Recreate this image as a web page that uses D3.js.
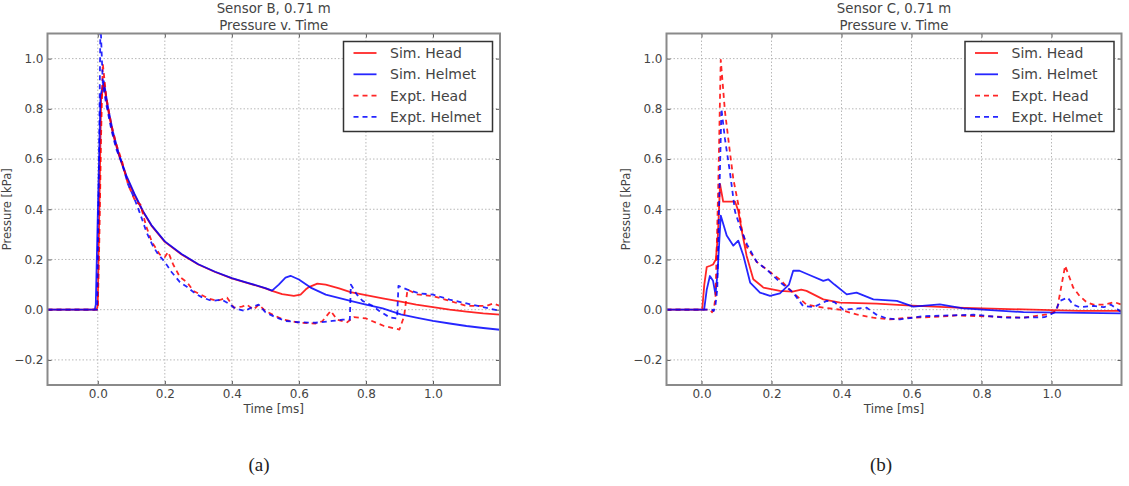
<!DOCTYPE html>
<html>
<head>
<meta charset="utf-8">
<script src="https://cdn.jsdelivr.net/npm/d3@7"></script>
<style>
  html, body { margin: 0; padding: 0; background: #ffffff; }
  svg { display: block; }
  text { font-family: "DejaVu Sans", sans-serif; }
</style>
</head>
<body>
<svg id="chart" width="1129" height="486"></svg>
<script>
// ---------------- DATA ----------------
const seriesNames = ["Sim. Head", "Sim. Helmet", "Expt. Head", "Expt. Helmet"];
const seriesColors = ["#ff0000", "#0000ff", "#ff0000", "#0000ff"];
const seriesDashed = [false, false, true, true];

const xTicksA = [0.0, 0.2, 0.4, 0.6, 0.8, 1.0];
const xTicksB = [0.0, 0.2, 0.4, 0.6, 0.8, 1.0];
const yTicks = [-0.2, 0.0, 0.2, 0.4, 0.6, 0.8, 1.0];
const xDomainA = [-0.15, 1.2];
const xDomainB = [-0.1, 1.2];
const yDomain = [-0.3, 1.1];

const titlesA = ["Sensor B, 0.71 m", "Pressure v. Time"];
const titlesB = ["Sensor C, 0.71 m", "Pressure v. Time"];
const xLabel = "Time [ms]";
const yLabel = "Pressure [kPa]";
const captions = ["(a)", "(b)"];

// Panel (a): Sensor B  [time ms, pressure kPa]
const aSimHead = [[-0.15,0],[-0.003,0],[0.0,0.02],[0.01,0.84],[0.018,0.9],[0.03,0.8],[0.045,0.7],[0.063,0.615],[0.085,0.53],[0.11,0.455],[0.135,0.39],[0.16,0.335],[0.2,0.27],[0.25,0.22],[0.3,0.18],[0.35,0.15],[0.4,0.125],[0.45,0.105],[0.5,0.085],[0.52,0.075],[0.55,0.062],[0.585,0.055],[0.605,0.06],[0.62,0.08],[0.63,0.09],[0.655,0.104],[0.68,0.1],[0.72,0.085],[0.754,0.07],[0.8,0.058],[0.85,0.045],[0.904,0.032],[0.95,0.02],[1.0,0.01],[1.05,0.0],[1.1,-0.008],[1.15,-0.015],[1.2,-0.02]];
const aSimHelmet = [[-0.15,0],[-0.009,0],[-0.006,0.02],[0.008,0.85],[0.018,0.91],[0.03,0.81],[0.045,0.71],[0.063,0.62],[0.085,0.535],[0.11,0.46],[0.135,0.392],[0.16,0.337],[0.2,0.272],[0.25,0.222],[0.3,0.181],[0.35,0.151],[0.4,0.126],[0.45,0.106],[0.5,0.086],[0.52,0.076],[0.54,0.1],[0.56,0.128],[0.575,0.135],[0.6,0.12],[0.635,0.088],[0.68,0.06],[0.754,0.035],[0.8,0.02],[0.85,0.005],[0.904,-0.019],[0.95,-0.032],[1.0,-0.045],[1.05,-0.055],[1.1,-0.065],[1.15,-0.073],[1.2,-0.08]];
const aExptHead = [[-0.15,0],[0.0,0],[0.005,0.3],[0.01,0.7],[0.015,0.98],[0.025,0.85],[0.04,0.74],[0.055,0.66],[0.073,0.588],[0.09,0.5],[0.113,0.428],[0.127,0.42],[0.145,0.33],[0.162,0.268],[0.185,0.22],[0.2,0.21],[0.21,0.23],[0.225,0.18],[0.245,0.13],[0.267,0.108],[0.285,0.075],[0.306,0.061],[0.33,0.045],[0.356,0.035],[0.386,0.048],[0.406,0.008],[0.43,0.012],[0.445,0.02],[0.465,0.0],[0.48,0.02],[0.5,-0.005],[0.53,-0.025],[0.555,-0.04],[0.6,-0.052],[0.65,-0.055],[0.67,-0.046],[0.695,-0.005],[0.714,-0.04],[0.744,-0.05],[0.764,-0.03],[0.8,-0.035],[0.854,-0.065],[0.9,-0.079],[0.914,-0.026],[0.924,0.08],[0.953,0.061],[1.0,0.054],[1.05,0.035],[1.1,0.015],[1.16,0.015],[1.18,0.025],[1.2,0.015]];
const aExptHelmet = [[-0.15,0],[-0.002,0],[0.003,0.5],[0.008,1.15],[0.015,0.9],[0.025,0.82],[0.04,0.72],[0.055,0.64],[0.073,0.58],[0.09,0.5],[0.107,0.45],[0.127,0.38],[0.145,0.31],[0.162,0.26],[0.18,0.22],[0.2,0.19],[0.22,0.15],[0.245,0.11],[0.267,0.09],[0.29,0.065],[0.31,0.05],[0.34,0.035],[0.37,0.04],[0.39,0.025],[0.41,0.005],[0.44,-0.005],[0.46,0.01],[0.48,0.02],[0.5,-0.01],[0.53,-0.03],[0.56,-0.045],[0.6,-0.05],[0.65,-0.052],[0.7,-0.045],[0.73,-0.04],[0.752,-0.04],[0.755,0.1],[0.773,0.06],[0.79,0.035],[0.82,0.015],[0.84,-0.005],[0.87,-0.03],[0.893,-0.035],[0.897,0.095],[0.924,0.08],[0.96,0.065],[1.0,0.06],[1.05,0.04],[1.1,0.025],[1.15,0.01],[1.2,-0.005]];

// Panel (b): Sensor C
const bSimHead = [[-0.1,0],[0.002,0],[0.008,0.1],[0.015,0.17],[0.025,0.175],[0.033,0.18],[0.041,0.2],[0.047,0.3],[0.053,0.5],[0.062,0.43],[0.075,0.43],[0.096,0.43],[0.105,0.394],[0.117,0.3],[0.129,0.214],[0.148,0.121],[0.177,0.088],[0.224,0.075],[0.26,0.072],[0.285,0.08],[0.3,0.075],[0.348,0.041],[0.396,0.028],[0.5,0.024],[0.586,0.017],[0.729,0.008],[0.919,0.001],[1.08,-0.005],[1.2,-0.005]];
const bSimHelmet = [[-0.1,0],[0.0075,0],[0.015,0.08],[0.024,0.134],[0.033,0.115],[0.04,0.06],[0.046,0.15],[0.055,0.375],[0.072,0.295],[0.091,0.255],[0.105,0.275],[0.12,0.214],[0.139,0.108],[0.167,0.068],[0.196,0.055],[0.224,0.065],[0.25,0.1],[0.262,0.155],[0.28,0.155],[0.31,0.137],[0.348,0.115],[0.362,0.121],[0.38,0.1],[0.415,0.061],[0.443,0.068],[0.491,0.041],[0.558,0.035],[0.605,0.012],[0.681,0.021],[0.748,0.005],[0.92,-0.01],[1.2,-0.015]];
const bExptHead = [[-0.1,0],[0.025,0],[0.03,-0.01],[0.035,0.0],[0.04,0.05],[0.048,0.5],[0.055,0.995],[0.067,0.79],[0.081,0.63],[0.091,0.52],[0.105,0.42],[0.115,0.32],[0.129,0.25],[0.158,0.19],[0.186,0.16],[0.224,0.12],[0.26,0.07],[0.3,0.02],[0.348,0.008],[0.396,0.0],[0.443,-0.019],[0.491,-0.032],[0.539,-0.039],[0.586,-0.032],[0.65,-0.03],[0.729,-0.023],[0.824,-0.027],[0.919,-0.032],[0.986,-0.019],[1.015,-0.005],[1.039,0.175],[1.062,0.088],[1.08,0.055],[1.1,0.03],[1.12,0.02],[1.15,0.02],[1.18,0.03],[1.2,0.02]];
const bExptHelmet = [[-0.1,0],[0.03,0],[0.035,-0.005],[0.04,0.02],[0.045,0.08],[0.05,0.4],[0.057,0.8],[0.067,0.68],[0.081,0.55],[0.096,0.39],[0.11,0.33],[0.13,0.26],[0.158,0.19],[0.186,0.16],[0.224,0.11],[0.262,0.068],[0.29,0.015],[0.32,0.01],[0.358,0.035],[0.38,0.03],[0.405,0.0],[0.472,0.008],[0.5,-0.02],[0.53,-0.035],[0.567,-0.039],[0.634,-0.026],[0.777,-0.02],[0.872,-0.032],[0.98,-0.03],[1.01,-0.01],[1.024,0.035],[1.046,0.048],[1.062,0.02],[1.08,0.01],[1.12,0.015],[1.15,0.01],[1.17,0.02],[1.2,-0.01]];

// ---------------- DRAW ----------------
const svg = d3.select("#chart");
const fmt = d => (d < 0 ? "\u2212" : "") + Math.abs(d).toFixed(1);

function panel(id, box, xDomain, xTicks, titles, seriesList) {
  const {left, right, top, bottom} = box;
  const x = d3.scaleLinear().domain(xDomain).range([left, right]);
  const y = d3.scaleLinear().domain(yDomain).range([bottom, top]);
  const g = svg.append("g");

  g.append("clipPath").attr("id", "clip" + id)
    .append("rect").attr("x", left).attr("y", top)
    .attr("width", right - left).attr("height", bottom - top);

  // grid
  g.append("g").selectAll("line").data(xTicks).join("line")
    .attr("x1", d => x(d)).attr("x2", d => x(d))
    .attr("y1", top).attr("y2", bottom)
    .attr("stroke", "#b8b8b8").attr("stroke-width", 1).attr("stroke-dasharray", "1.5,2");
  g.append("g").selectAll("line").data(yTicks).join("line")
    .attr("x1", left).attr("x2", right)
    .attr("y1", d => y(d)).attr("y2", d => y(d))
    .attr("stroke", "#b8b8b8").attr("stroke-width", 1).attr("stroke-dasharray", "1.5,2");

  // axes with inward ticks
  const axB = d3.axisBottom(x).tickValues(xTicks).tickFormat(fmt).tickSizeInner(-4).tickSizeOuter(0).tickPadding(4);
  const axT = d3.axisTop(x).tickValues(xTicks).tickFormat("").tickSizeInner(-4).tickSizeOuter(0);
  const axL = d3.axisLeft(y).tickValues(yTicks).tickFormat(fmt).tickSizeInner(-4).tickSizeOuter(0).tickPadding(4);
  const axR = d3.axisRight(y).tickValues(yTicks).tickFormat("").tickSizeInner(-4).tickSizeOuter(0);
  const styleAx = sel => {
    sel.select(".domain").remove();
    sel.selectAll(".tick line").attr("stroke", "#555").attr("stroke-width", 1);
    sel.selectAll(".tick text").attr("fill", "#444").style("font-size", "12px").style("font-family", "DejaVu Sans, sans-serif");
  };
  g.append("g").attr("transform", `translate(0,${bottom})`).call(axB).call(styleAx);
  g.append("g").attr("transform", `translate(0,${top})`).call(axT).call(styleAx);
  g.append("g").attr("transform", `translate(${left},0)`).call(axL).call(styleAx);
  g.append("g").attr("transform", `translate(${right},0)`).call(axR).call(styleAx);

  // lines
  const line = d3.line().x(d => x(d[0])).y(d => y(d[1]));
  const lg = g.append("g").attr("clip-path", `url(#clip${id})`);
  seriesList.forEach((s, i) => {
    lg.append("path").datum(s)
      .attr("d", line)
      .attr("fill", "none")
      .attr("stroke", seriesColors[i])
      .attr("stroke-opacity", 0.85)
      .attr("stroke-width", 1.8)
      .attr("stroke-linejoin", "round")
      .attr("stroke-dasharray", seriesDashed[i] ? "5,4" : null);
  });

  // frame
  g.append("rect").attr("x", left).attr("y", top)
    .attr("width", right - left).attr("height", bottom - top)
    .attr("fill", "none").attr("stroke", "#8a8a8a").attr("stroke-width", 2);

  // titles
  const cx = (left + right) / 2;
  g.append("text").attr("x", cx).attr("y", 13).attr("text-anchor", "middle")
    .attr("fill", "#444").style("font-size", "13.3px").text(titles[0]);
  g.append("text").attr("x", cx).attr("y", 30).attr("text-anchor", "middle")
    .attr("fill", "#444").style("font-size", "13.3px").text(titles[1]);

  // axis labels
  g.append("text").attr("x", cx).attr("y", 413).attr("text-anchor", "middle")
    .attr("fill", "#444").style("font-size", "12px").text(xLabel);
  g.append("text")
    .attr("transform", `translate(${left - 37},${(top + bottom) / 2}) rotate(-90)`)
    .attr("text-anchor", "middle")
    .attr("fill", "#444").style("font-size", "11.5px").text(yLabel);

  // legend
  const lw = 149, lh = 90;
  const lx = right - 7.5 - lw, ly = top + 8;
  const leg = g.append("g");
  leg.append("rect").attr("x", lx).attr("y", ly).attr("width", lw).attr("height", lh)
    .attr("fill", "#ffffff").attr("stroke", "#333").attr("stroke-width", 1.5);
  seriesNames.forEach((name, i) => {
    const yy = ly + 11.5 + i * 21.3;
    leg.append("line").attr("x1", lx + 10).attr("x2", lx + 33).attr("y1", yy).attr("y2", yy)
      .attr("stroke", seriesColors[i]).attr("stroke-opacity", 0.85).attr("stroke-width", 1.8)
      .attr("stroke-dasharray", seriesDashed[i] ? "5,4" : null);
    leg.append("text").attr("x", lx + 46.5).attr("y", yy + 5)
      .attr("fill", "#444").style("font-size", "14px").text(name);
  });
  return cx;
}

panel("A", {left: 47.5, right: 500, top: 33.5, bottom: 385}, xDomainA, xTicksA, titlesA,
      [aSimHead, aSimHelmet, aExptHead, aExptHelmet]);
panel("B", {left: 666.5, right: 1121.5, top: 33.5, bottom: 385}, xDomainB, xTicksB, titlesB,
      [bSimHead, bSimHelmet, bExptHead, bExptHelmet]);

// captions
svg.append("text").attr("x", 259).attr("y", 471).attr("text-anchor", "middle")
  .style("font-family", "Liberation Serif, DejaVu Serif, serif").style("font-size", "19px")
  .attr("fill", "#222").text(captions[0]);
svg.append("text").attr("x", 881).attr("y", 471).attr("text-anchor", "middle")
  .style("font-family", "Liberation Serif, DejaVu Serif, serif").style("font-size", "19px")
  .attr("fill", "#222").text(captions[1]);
</script>
</body>
</html>
